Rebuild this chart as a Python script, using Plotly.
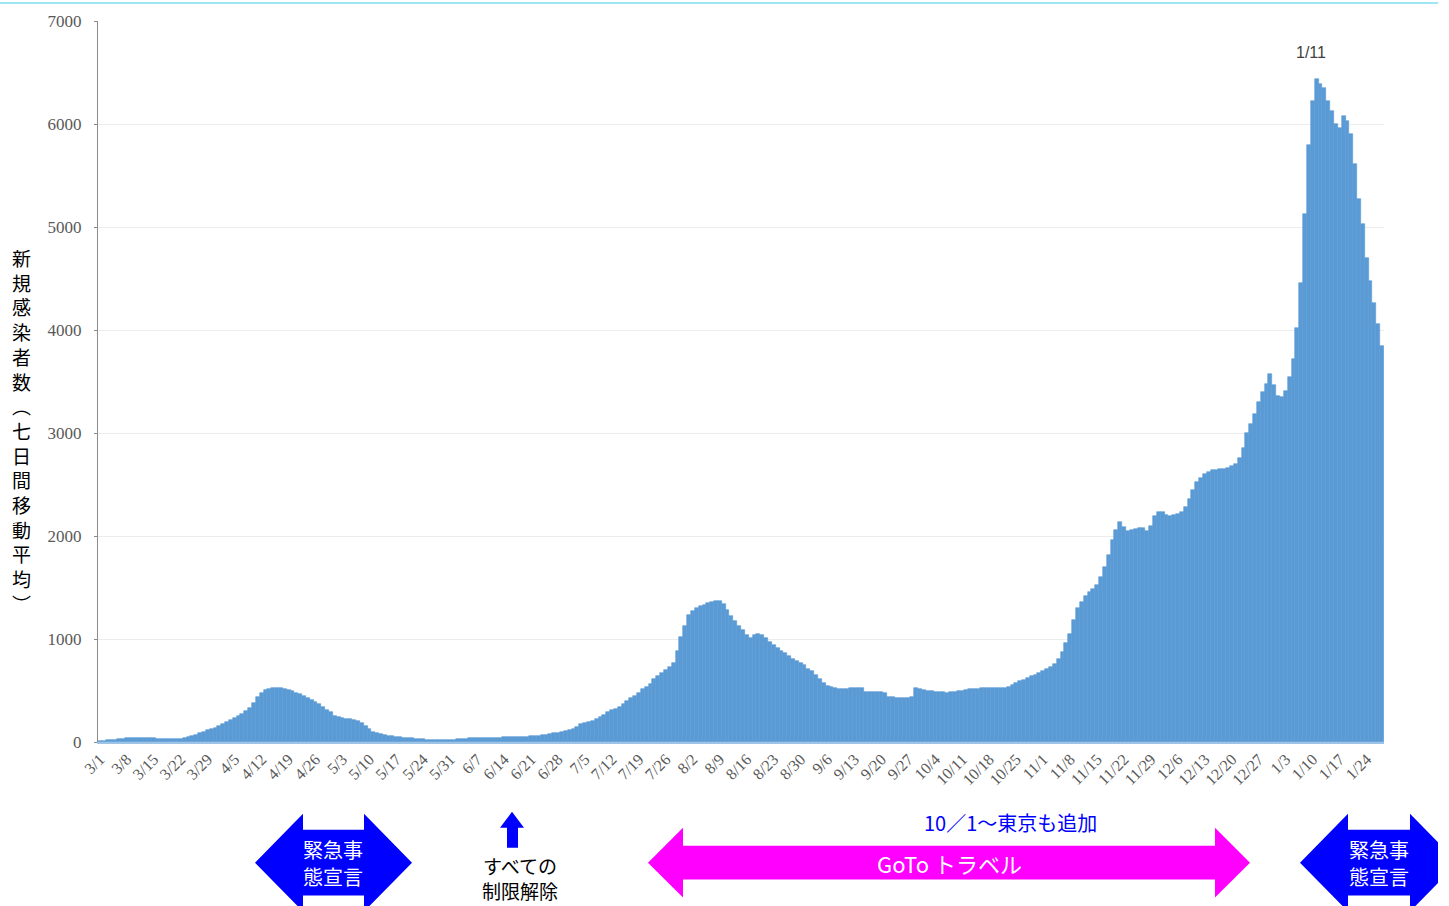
import pandas as pd
import plotly.graph_objects as go

# ---- data: 7-day moving average of new cases, daily from 2020-03-01 to 2021-01-28 ----
start_date = "2020-03-01"
mar = [12, 14, 17, 20, 24, 28, 32, 35, 36, 37, 38, 38, 37, 36, 35, 34, 33, 32, 32, 31, 31, 32, 36, 44, 55, 68, 85, 100, 112, 125, 138]
apr = [155, 172, 192, 212, 232, 255, 275, 300, 330, 380, 440, 480, 505, 515, 525, 525, 520, 512, 505, 495, 480, 465, 450, 430, 410, 390, 365, 340, 315, 290]
may = [255, 240, 232, 228, 222, 215, 205, 185, 160, 130, 100, 85, 75, 68, 63, 58, 52, 46, 42, 38, 35, 32, 29, 26, 23, 21, 20, 19, 18, 17, 17]
jun = [20, 25, 30, 34, 37, 38, 39, 40, 40, 41, 42, 42, 43, 44, 44, 45, 46, 48, 50, 52, 54, 56, 60, 65, 70, 77, 84, 92, 100, 110]
jul = [120, 130, 150, 170, 180, 192, 205, 225, 245, 265, 290, 310, 325, 340, 370, 400, 425, 450, 480, 510, 535, 565, 610, 645, 670, 695, 730, 770, 880, 1020, 1130]
aug = [1230, 1270, 1300, 1325, 1335, 1345, 1355, 1365, 1370, 1340, 1280, 1220, 1170, 1130, 1090, 1040, 1005, 1035, 1045, 1040, 1010, 975, 945, 915, 885, 860, 835, 810, 790, 770, 745]
sep = [710, 690, 650, 610, 570, 545, 530, 520, 515, 512, 518, 522, 525, 522, 520, 490, 488, 487, 485, 482, 480, 440, 435, 432, 430, 430, 432, 435, 520, 515]
oct_ = [505, 498, 492, 488, 485, 482, 480, 485, 490, 495, 500, 505, 510, 515, 518, 520, 522, 522, 520, 520, 522, 525, 535, 550, 570, 590, 605, 620, 640, 655, 670]
nov = [690, 710, 730, 760, 810, 870, 960, 1050, 1180, 1300, 1360, 1420, 1460, 1490, 1520, 1600, 1700, 1820, 1960, 2060, 2140, 2090, 2050, 2060, 2070, 2080, 2075, 2050, 2100, 2190]
dec = [2235, 2230, 2205, 2195, 2200, 2210, 2230, 2280, 2360, 2450, 2520, 2565, 2600, 2620, 2640, 2645, 2650, 2655, 2660, 2680, 2700, 2760, 2850, 3000, 3090, 3180, 3300, 3400, 3480, 3570, 3470]
jan = [3360, 3350, 3410, 3540, 3720, 4020, 4460, 5125, 5800, 6220, 6435, 6385, 6350, 6220, 6125, 6000, 5965, 6080, 6030, 5900, 5610, 5270, 5025, 4700, 4475, 4265, 4055, 3840]

values = mar + apr + may + jun + jul + aug + sep + oct_ + nov + dec + jan
dates = pd.date_range(start_date, periods=len(values), freq="D")
categories = [f"{d.month}/{d.day}" for d in dates]
tick_labels = categories[::7]

y_ticks = [0, 1000, 2000, 3000, 4000, 5000, 6000, 7000]
y_title_chars = list("新規感染者数") + ["︵"] + list("七日間移動平均") + ["︶"]
peak_label = "1/11"

# ---- figure ----
W, H = 1449, 906
L, R, T, B = 98, 1384, 19, 742


def px(x, y):
    return (x - L) / (R - L), (B - y) / (B - T)


def path(points):
    pts = [px(x, y) for x, y in points]
    return "M " + " L ".join(f"{a:.5f},{b:.5f}" for a, b in pts) + " Z"


fig = go.Figure()
fig.add_trace(go.Bar(
    x=categories, y=values,
    marker=dict(color="#5b9bd5", line=dict(color="#5b9bd5", width=0.6)),
    hoverinfo="x+y",
))

fig.update_layout(
    width=W, height=H,
    margin=dict(l=L, r=W - R, t=T, b=H - B),
    paper_bgcolor="white", plot_bgcolor="white",
    bargap=0, showlegend=False,
    font=dict(family="Noto Sans CJK JP", color="#000000"),
)
fig.update_xaxes(
    type="category", tickmode="array", tickvals=tick_labels, ticktext=tick_labels,
    tickangle=-45, tickfont=dict(family="Liberation Serif", size=16, color="#595959"),
    showgrid=False, showline=True, linecolor="#9dc3e6", linewidth=1.5, ticks="",
    range=[-0.5, len(values) - 0.5],
)
fig.update_yaxes(
    range=[0, 7000], tickvals=y_ticks, ticktext=[str(v) for v in y_ticks],
    tickfont=dict(family="Liberation Serif", size=17, color="#595959"),
    showgrid=True, gridcolor="#ececec", gridwidth=1, zeroline=False,
    showline=True, linecolor="#8c8c8c", linewidth=1, ticks="outside", ticklen=3,
    tickcolor="#8c8c8c", ticklabelstandoff=9,
)

shapes = []
annotations = []

# top cyan border line
shapes.append(dict(type="line", xref="paper", yref="paper",
                   x0=px(0, 1)[0], x1=px(1438, 1)[0], y0=px(0, 1)[1], y1=px(0, 1)[1],
                   line=dict(color="#9fe6f5", width=2)))


def double_arrow(x0, x1, cy, head_w, head_h, body_h, color, right_cut=None):
    right = [(x1, cy)]
    if right_cut is not None:
        hh = (x1 - right_cut) / head_w * head_h
        right = [(right_cut, cy - hh), (right_cut, cy + hh)]
    pts = ([(x0, cy), (x0 + head_w, cy - head_h), (x0 + head_w, cy - body_h),
            (x1 - head_w, cy - body_h), (x1 - head_w, cy - head_h)] + right +
           [(x1 - head_w, cy + head_h), (x1 - head_w, cy + body_h),
            (x0 + head_w, cy + body_h), (x0 + head_w, cy + head_h)])
    return dict(type="path", xref="paper", yref="paper", path=path(pts),
                fillcolor=color, line=dict(width=0), layer="above")


# state of emergency arrows (blue)
shapes.append(double_arrow(255, 412, 863, 48, 49, 33, "#0000ff"))
shapes.append(double_arrow(1300, 1458, 863, 48, 49, 33, "#0000ff", right_cut=1438))
# GoTo travel arrow (magenta)
shapes.append(double_arrow(648, 1250, 863, 35, 35, 17, "#ff00ff"))
# up arrow
shapes.append(dict(type="path", xref="paper", yref="paper", layer="above",
                   path=path([(512, 812), (524, 828), (518, 828), (518, 848),
                              (507, 848), (507, 828), (500, 828)]),
                   fillcolor="#0000ff", line=dict(width=0)))


def text(x, y, s, size, color, family="Noto Sans CJK JP", xanchor="center"):
    ax, ay = px(x, y)
    annotations.append(dict(x=ax, y=ay, xref="paper", yref="paper", text=s,
                            showarrow=False, xanchor=xanchor, yanchor="middle",
                            font=dict(family=family, size=size, color=color)))


text(333, 850, "緊急事", 20, "white")
text(333, 877, "態宣言", 20, "white")
text(1379, 850, "緊急事", 20, "white")
text(1379, 877, "態宣言", 20, "white")
text(949, 863, "GoTo トラベル", 22, "white")
text(1010, 823, "10／1～東京も追加", 20, "#0000ff")
text(520, 878, "すべての<br>制限解除", 19, "#000000")
text(1311, 51, peak_label, 16, "#404040", family="Liberation Sans")

# vertical y-axis title (one character per line)
text(21, 430, "<br>".join(y_title_chars), 19, "#000000")

fig.update_layout(shapes=shapes, annotations=annotations)
fig.write_html("out.html", config={"displayModeBar": False},
               post_script="document.body.style.margin='0';document.body.style.overflow='hidden';")
